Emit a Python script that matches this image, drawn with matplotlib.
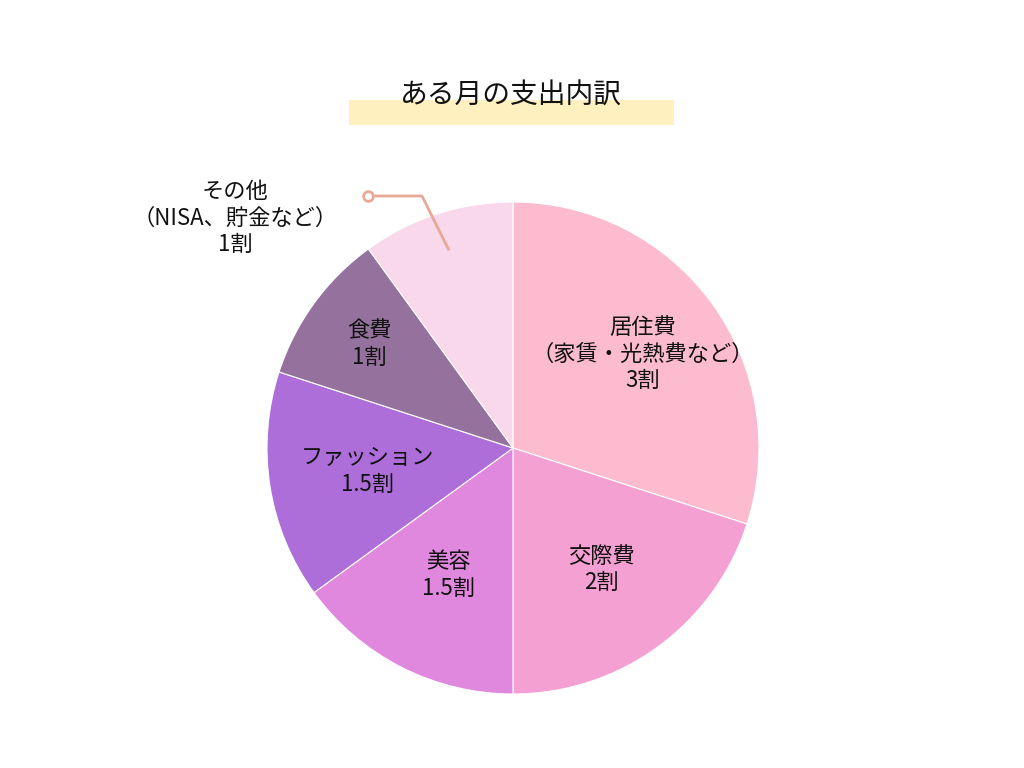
import matplotlib
matplotlib.use("Agg")
import matplotlib.pyplot as plt
import numpy as np
from matplotlib.patches import Rectangle

plt.rcParams['font.family'] = ['Noto Sans CJK JP', 'DejaVu Sans']

categories = ["居住費\n（家賃・光熱費など）\n3割", "交際費\n2割", "美容\n1.5割", "ファッション\n1.5割", "食費\n1割", "その他\n（NISA、貯金など）\n1割"]
values = [3, 2, 1.5, 1.5, 1, 1]
colors = ["#FDBBD0", "#F5A0D2", "#E088DD", "#AE6ED9", "#95729E", "#F8D8EA"]
label_r = [0.65, 0.61, 0.58, 0.60, 0.72, None]

fig = plt.figure(figsize=(10.24, 7.68), dpi=100)
R = 246
ax = fig.add_axes([(513 - R) / 1024, (320 - R) / 768, 2 * R / 1024, 2 * R / 768])
wedges, _ = ax.pie(values, colors=colors, startangle=90, counterclock=False,
                   wedgeprops=dict(edgecolor="white", linewidth=0.8))
ax.set_xlim(-1, 1); ax.set_ylim(-1, 1); ax.set_aspect("equal"); ax.axis("off")

for w, lab, r in zip(wedges, categories, label_r):
    a = np.deg2rad((w.theta1 + w.theta2) / 2)
    if r is not None:
        ax.text(r * np.cos(a), r * np.sin(a), lab, ha="center", va="center",
                fontsize=16, linespacing=1.2, color="#111111")
    else:
        # leader line for the last slice
        p0 = (0.85 * np.cos(a), 0.85 * np.sin(a))
        p1 = ((422 - 513) / R, (448 - 196) / R)
        p2 = ((368 - 513) / R, (448 - 196) / R)
        ax.plot([p0[0], p1[0], p2[0]], [p0[1], p1[1], p2[1]], color="#E8A898", lw=2, clip_on=False)
        ax.plot([p2[0]], [p2[1]], "o", ms=7, mfc="white", mec="#E8A898", mew=2, clip_on=False)
        ax.text((235 - 513) / R, (448 - 218) / R, lab, ha="center", va="center",
                fontsize=16, linespacing=1.2, color="#111111", clip_on=False)

fig.patches.append(Rectangle((349 / 1024, 1 - 125 / 768), 325 / 1024, 25 / 768,
                             transform=fig.transFigure, facecolor="#FFF0C0", edgecolor="none", zorder=0))
fig.text(511 / 1024, 1 - 96 / 768, "ある月の支出内訳", ha="center", va="center", fontsize=20, color="#111111")

fig.savefig("out.png", dpi=100)
